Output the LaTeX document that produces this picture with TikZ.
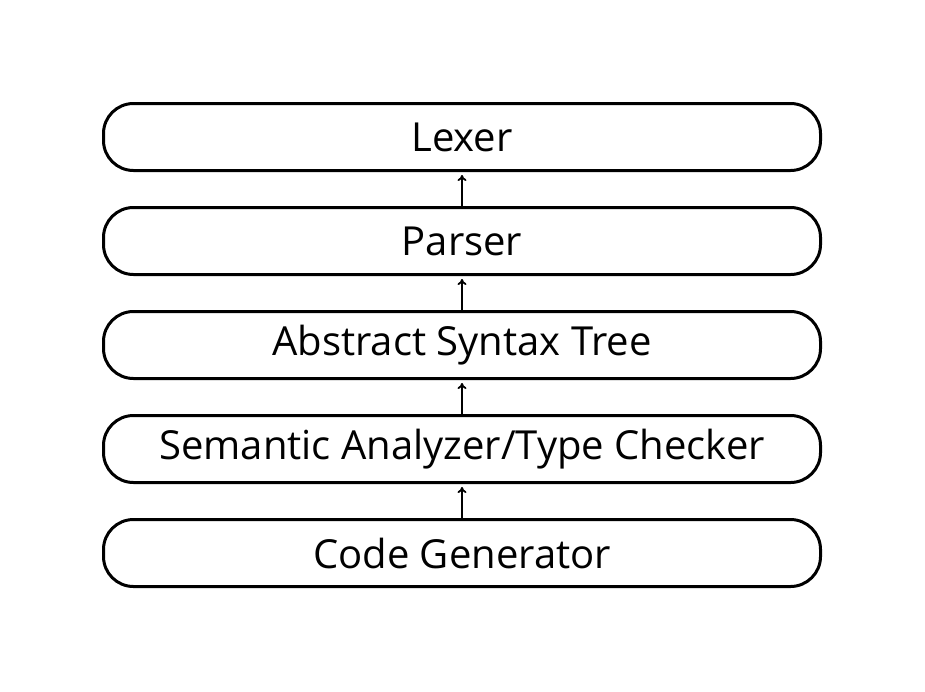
\documentclass[tikz,border=0pt]{standalone}
\usepackage{fontspec}
\setmainfont{Open Sans}
\usetikzlibrary{arrows.meta, positioning}

\begin{document}
\begin{tikzpicture}[x=1pt, y=-1pt,
    stage/.style={draw, rectangle, rounded corners=30pt, line width=3pt,
        minimum width=717pt, minimum height=67pt, inner sep=0pt,
        font=\fontsize{40}{44}\selectfont},
    flow/.style={line width=1.8pt, -{To[length=6pt, width=9pt]}, shorten >=3pt}]
                \useasboundingbox (0, 0) rectangle (925, 691);
                \node[stage] (lexer) at (462, 137) {Lexer};
                \node[stage] (parser) at (462, 241) {Parser};
                \node[stage] (ast) at (462, 345) {Abstract Syntax Tree};
                \node[stage] (sem) at (462, 449) {Semantic Analyzer/Type Checker};
                \node[stage] (codegen) at (462, 553) {Code Generator};

                \draw[flow] (parser) -- (lexer);
                \draw[flow] (ast) -- (parser);
                \draw[flow] (sem) -- (ast);
                \draw[flow] (codegen) -- (sem);
            \end{tikzpicture}
\end{document}
